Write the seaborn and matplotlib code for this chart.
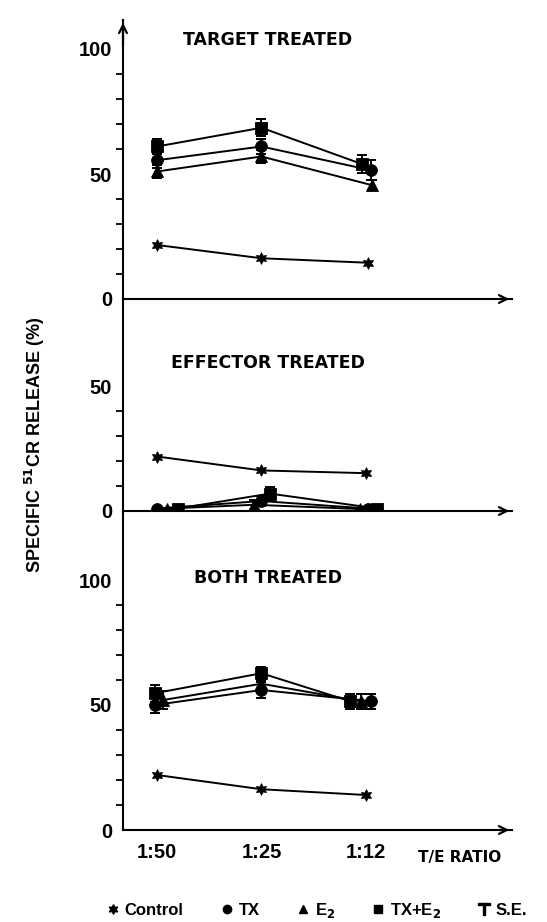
import numpy as np
import pandas as pd
import matplotlib
matplotlib.use("Agg")
import matplotlib.pyplot as plt
import seaborn as sns
from matplotlib.lines import Line2D

sns.set_theme(style="white")
plt.rcParams['font.family'] = ['Liberation Sans', 'DejaVu Sans']
plt.rcParams['font.weight'] = 'bold'
plt.rcParams['text.color'] = 'black'
plt.rcParams['axes.labelcolor'] = 'black'
plt.rcParams['xtick.color'] = 'black'
plt.rcParams['ytick.color'] = 'black'

# ---------------- data ----------------
ratios = ['1:50', '1:25', '1:12']
series = ['Control', 'TX', 'E2', 'TX+E2']
panels = ['TARGET TREATED', 'EFFECTOR TREATED', 'BOTH TREATED']

target_control = [21.6, 16.3, 14.5]
target_tx = [55.5, 61.0, 51.5]
target_e2 = [51.0, 57.0, 45.5]
target_txe2 = [61.0, 68.5, 54.0]
target_tx_se = [3.0, 3.0, 4.0]
target_e2_se = [2.5, 2.5, 2.0]
target_txe2_se = [3.0, 3.5, 3.5]

effector_control = [21.9, 16.3, 15.2]
effector_tx = [1.0, 4.0, 1.0]
effector_e2 = [1.0, 2.5, 0.8]
effector_txe2 = [1.0, 7.0, 1.0]
effector_tx_se = [0.0, 2.0, 0.0]
effector_e2_se = [0.0, 2.0, 0.0]
effector_txe2_se = [0.0, 2.5, 0.0]

both_control = [22.0, 16.3, 14.0]
both_tx = [50.0, 56.0, 51.5]
both_e2 = [52.0, 58.5, 51.5]
both_txe2 = [54.7, 62.7, 51.5]
both_tx_se = [3.0, 3.3, 3.0]
both_e2_se = [3.5, 2.5, 3.0]
both_txe2_se = [3.3, 2.6, 3.0]

values = {
    'TARGET TREATED': [target_control, target_tx, target_e2, target_txe2],
    'EFFECTOR TREATED': [effector_control, effector_tx, effector_e2, effector_txe2],
    'BOTH TREATED': [both_control, both_tx, both_e2, both_txe2],
}
errors = {
    'TARGET TREATED': [None, target_tx_se, target_e2_se, target_txe2_se],
    'EFFECTOR TREATED': [None, effector_tx_se, effector_e2_se, effector_txe2_se],
    'BOTH TREATED': [None, both_tx_se, both_e2_se, both_txe2_se],
}

# ---------------- style ----------------
# small horizontal dodge (in category units) used in the original to separate overlapping symbols
dodge = {
    'TARGET TREATED': {'Control': [0, 0, 0.02], 'TX': [0, 0, 0.05], 'E2': [0, 0, 0.06], 'TX+E2': [0, 0, -0.04]},
    'EFFECTOR TREATED': {'Control': [0, 0, 0], 'TX': [0, 0.0, 0.02], 'E2': [0.1, -0.07, -0.06], 'TX+E2': [0.2, 0.08, 0.11]},
    'BOTH TREATED': {'Control': [0, 0, 0], 'TX': [-0.02, 0, 0.05], 'E2': [0.06, 0, -0.05], 'TX+E2': [-0.02, 0, -0.15]},
}
markers = {'Control': (6, 1, 0), 'TX': 'o', 'E2': '^', 'TX+E2': 's'}
ylims = {'TARGET TREATED': 111.6, 'EFFECTOR TREATED': 85.2, 'BOTH TREATED': 127.6}
ytick_max = {'TARGET TREATED': 100, 'EFFECTOR TREATED': 50, 'BOTH TREATED': 100}

W, H = 547, 922
fig = plt.figure(figsize=(W / 100, H / 100), dpi=100)
left_px, right_px = 123, 512
rects_px = {'TARGET TREATED': (20, 299), 'EFFECTOR TREATED': (299, 511), 'BOTH TREATED': (511, 830)}
x_left = -0.325
x_right = x_left + (right_px - left_px) / 104.5

axes = {}
for p in panels:
    top, bot = rects_px[p]
    ax = fig.add_axes([left_px / W, (H - bot) / H, (right_px - left_px) / W, (bot - top) / H])
    ax.patch.set_alpha(0)
    axes[p] = ax
    rows = []
    for s, vals in zip(series, values[p]):
        for i, (r, v) in enumerate(zip(ratios, vals)):
            rows.append({'x': i + dodge[p][s][i], 'y': v, 'series': s})
    df = pd.DataFrame(rows)
    sns.lineplot(data=df, x='x', y='y', hue='series', style='series',
                 palette={s: 'black' for s in series}, markers=markers, dashes=False,
                 markersize=8.5, linewidth=1.4, legend=False, ax=ax, sort=False,
                 markeredgewidth=0.6, markeredgecolor='black', zorder=3)
    for s, vals, errs in zip(series, values[p], errors[p]):
        if errs is None:
            continue
        xs = [i + dodge[p][s][i] for i in range(3)]
        ax.errorbar(xs, vals, yerr=errs, fmt='none', ecolor='black', elinewidth=1.4,
                    capsize=3.5, capthick=1.4, zorder=2)
    ax.set_xlim(x_left, x_right)
    ax.set_ylim(0, ylims[p])
    for sp in ['top', 'right']:
        ax.spines[sp].set_visible(False)
    for sp in ['left', 'bottom']:
        ax.spines[sp].set_color('black')
        ax.spines[sp].set_linewidth(1.5)
    maj = [0, 50, 100][: (ytick_max[p] // 50) + 1]
    ax.set_yticks(maj)
    ax.set_yticks(np.arange(0, ytick_max[p] + 1, 10), minor=True)
    ax.set_yticklabels([str(t) for t in maj], fontsize=14.5, fontweight='bold')
    ax.tick_params(axis='y', which='major', length=6, width=1.3, direction='out', pad=2, colors='black')
    ax.tick_params(axis='y', which='minor', length=5, width=1.3, direction='out', left=True)
    ax.set_xticks([0, 1, 2])
    ax.tick_params(axis='x', length=6, width=1.3, direction='out', colors='black')
    if p == 'BOTH TREATED':
        ax.set_xticklabels(ratios, fontsize=14.5, fontweight='bold')
    else:
        ax.set_xticklabels([])
    ax.set_xlabel('')
    ax.set_ylabel('')
    ax.grid(False)
    ax.annotate('', xy=(1.0, 0), xytext=(0.96, 0), xycoords='axes fraction',
                arrowprops=dict(arrowstyle='->', lw=1.6, color='black',
                                mutation_scale=14), annotation_clip=False)

# titles
title_y = {'TARGET TREATED': 40, 'EFFECTOR TREATED': 363, 'BOTH TREATED': 578}
for p in panels:
    fig.text(268 / W, 1 - title_y[p] / H, p, ha='center', va='center',
             fontsize=12.5, fontweight='bold', family=['DejaVu Sans'])

# y arrow on top
axes['TARGET TREATED'].annotate('', xy=(0, 1.0), xytext=(0, 0.9), xycoords='axes fraction',
                                arrowprops=dict(arrowstyle='->', lw=1.6, color='black',
                                                mutation_scale=14), annotation_clip=False)

fig.text(460 / W, 1 - 857 / H, 'T/E RATIO', ha='center', va='center', fontsize=11,
         fontweight='bold', family=['DejaVu Sans'])
fig.text(35 / W, 1 - 445 / H, 'SPECIFIC $^{\\mathbf{51}}$CR RELEASE (%)', rotation=90,
         ha='center', va='center', fontsize=13, fontweight='bold',
         family=['Liberation Sans Narrow', 'Liberation Sans', 'DejaVu Sans'])

handles = [
    Line2D([], [], marker=(6, 1, 0), ls='none', color='black', markersize=7),
    Line2D([], [], marker='o', ls='none', color='black', markersize=6),
    Line2D([], [], marker='^', ls='none', color='black', markersize=6),
    Line2D([], [], marker='s', ls='none', color='black', markersize=6),
    Line2D([], [], marker='$\\top$', ls='none', color='black', markersize=9),
]
labels = ['Control', 'TX', 'E$_\\mathbf{2}$', 'TX+E$_\\mathbf{2}$', 'S.E.']
fig.legend(handles, labels, loc='center', bbox_to_anchor=(316 / W, 1 - 910 / H), ncol=5,
           frameon=False, handletextpad=0.2, columnspacing=2.1, handlelength=1.0,
           prop={'weight': 'bold', 'size': 12})

fig.savefig('out.png', dpi=100)
